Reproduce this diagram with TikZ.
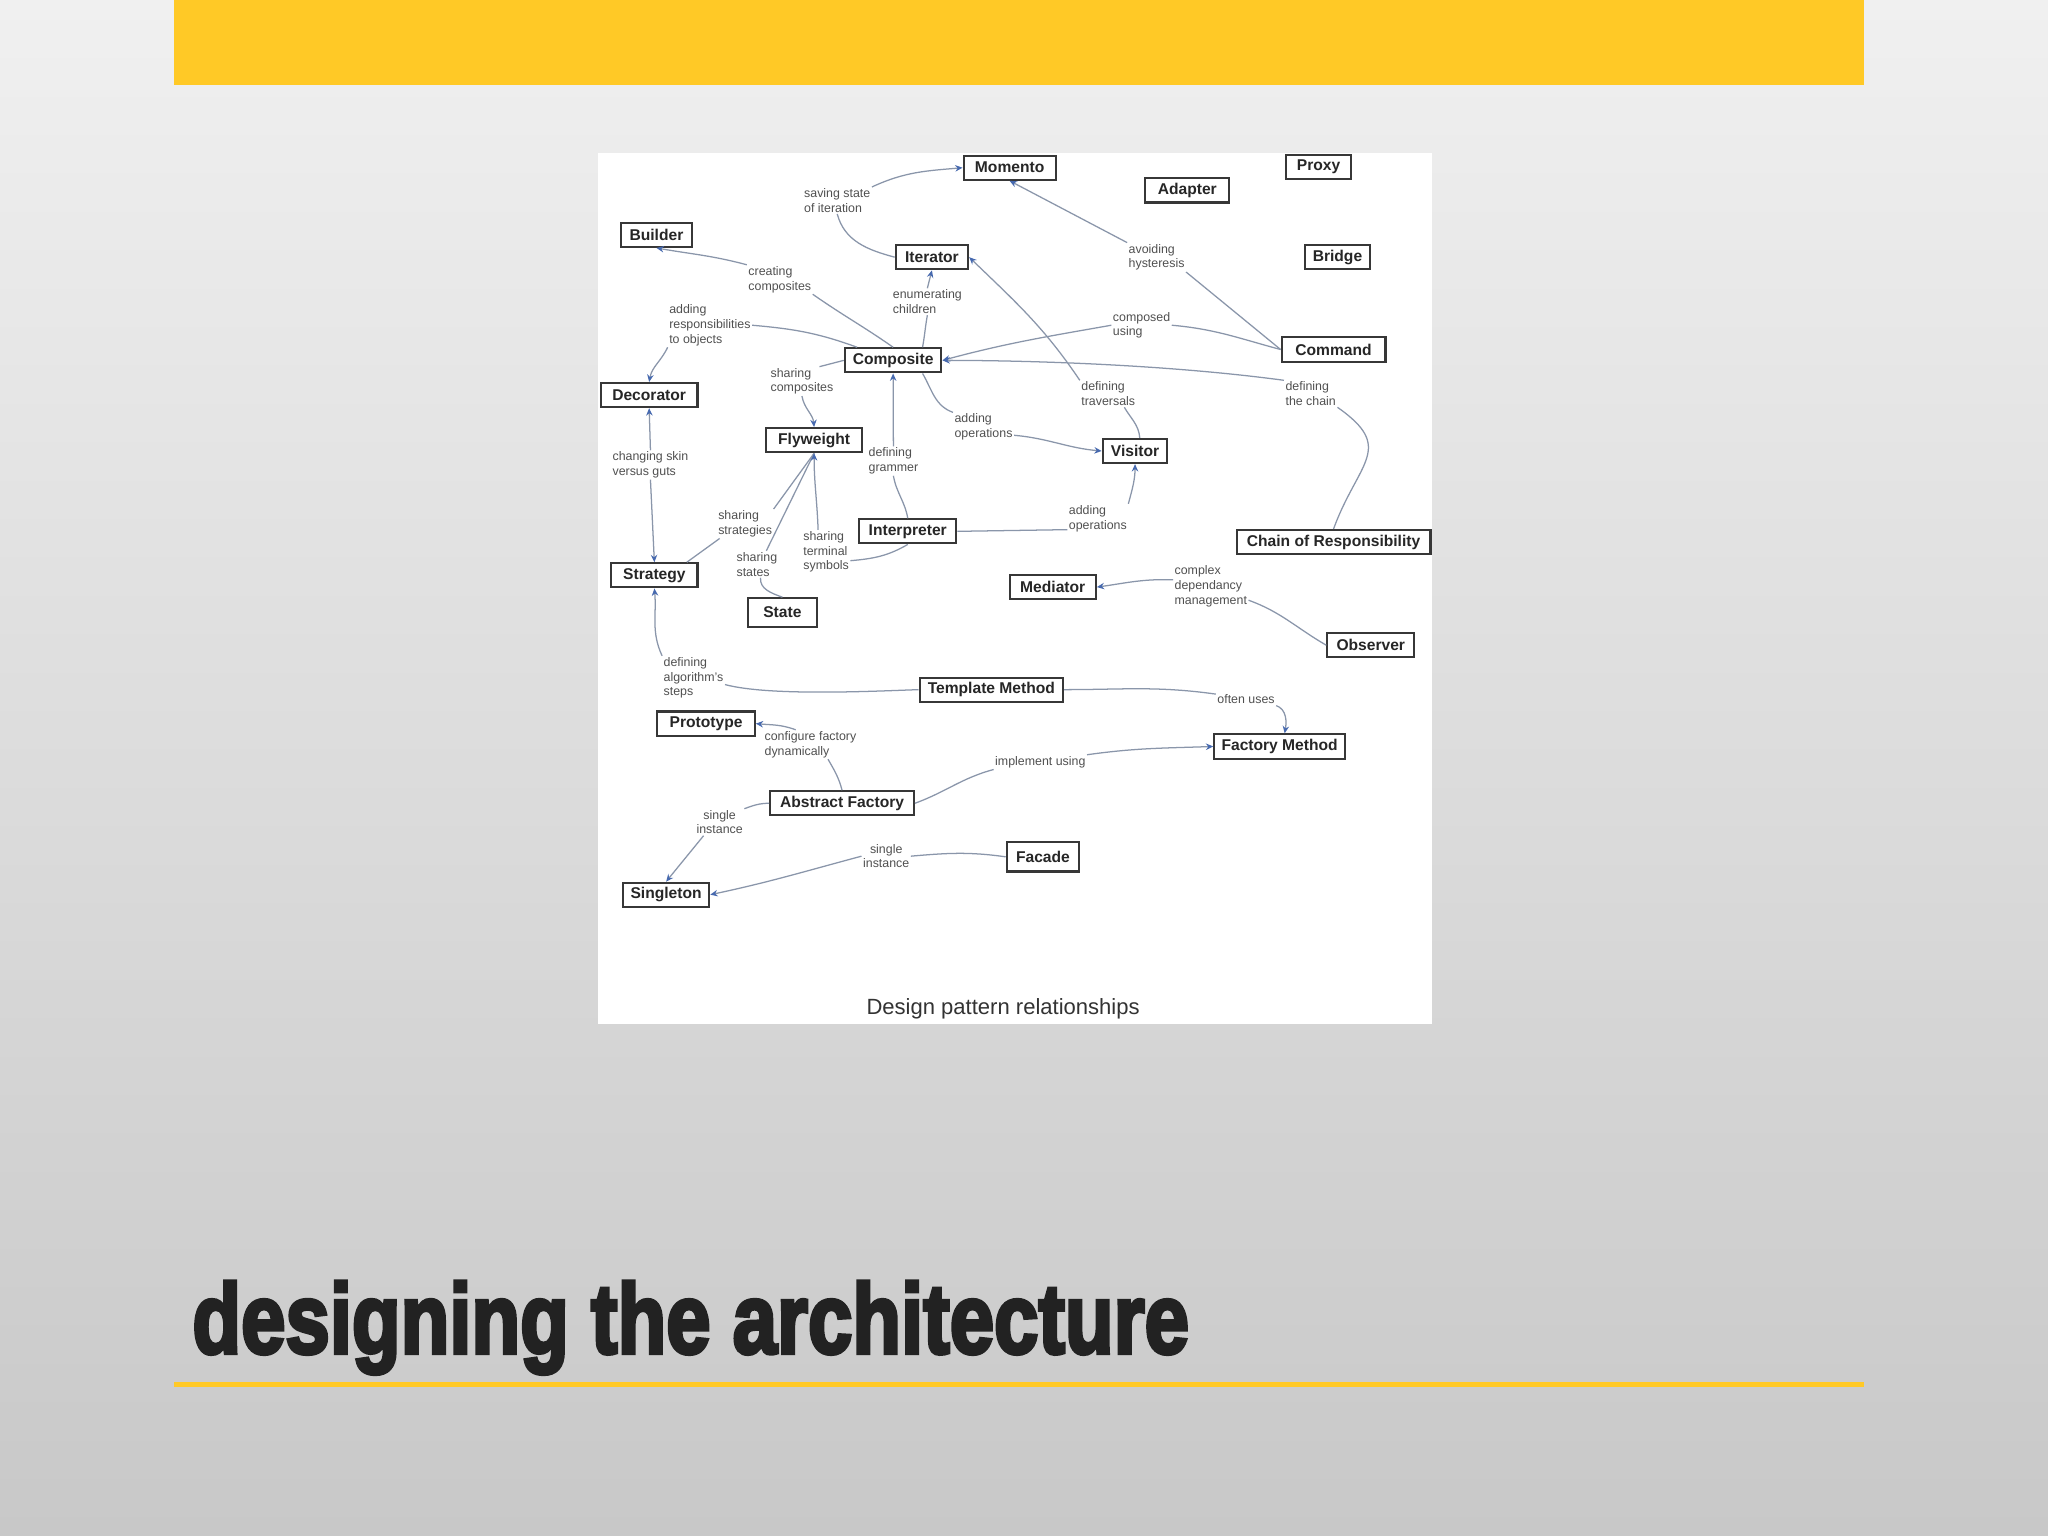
\documentclass[tikz,border=0pt]{standalone}
\usepackage{fontspec}
\usepackage{graphicx}
\setmainfont{Liberation Sans}
\newfontfamily\titlefont{Liberation Sans}[BoldFeatures={FakeBold=4}]
\usetikzlibrary{arrows.meta}
\definecolor{barc}{RGB}{255,201,38}
\definecolor{edgec}{RGB}{138,150,170}
\definecolor{arrowc}{RGB}{70,105,175}
\definecolor{boxc}{RGB}{55,55,55}
\definecolor{lblc}{RGB}{80,80,80}
\definecolor{titlec}{RGB}{34,34,34}
\definecolor{bgtop}{RGB}{240,240,240}
\definecolor{bgbot}{RGB}{200,200,200}
\tikzset{
 pat/.style={draw=boxc, line width=0.9pt, fill=white, inner xsep=2pt, inner ysep=0pt,
   minimum height=0.37cm, font=\fontsize{6.8}{8}\selectfont\bfseries, text=black!85},
 lbl/.style={inner sep=0.5pt, align=left, font=\fontsize{5.4}{6.4}\selectfont, text=lblc},
 conn/.style={draw=edgec, line width=0.55pt},
 conna/.style={conn, -{Stealth[length=3.2pt,width=2.8pt,color=arrowc]}},
}
\begin{document}
\begin{tikzpicture}[x=0.02cm,y=0.02cm]
\useasboundingbox (0,0) rectangle (1568,-1176);
\shade[top color=bgtop,bottom color=bgbot] (0,0) rectangle (1568,-1176);
\fill[barc] (133,0) rectangle (1427,-65);
\fill[white] (458,-117) rectangle (1096,-784);

% pattern boxes
\node[pat,minimum width=1.41cm] (Momento) at (773,-128.4) {Momento};
\node[pat,minimum width=1.29cm] (Adapter) at (909,-145.8) {Adapter};
\node[pat,minimum width=1.0cm] (Proxy) at (1009.5,-127.6) {Proxy};
\node[pat,minimum width=1.1cm] (Builder) at (502.6,-179.8) {Builder};
\node[pat,minimum width=1.11cm] (Iterator) at (713.5,-196.9) {Iterator};
\node[pat,minimum width=1.0cm] (Bridge) at (1024,-197) {Bridge};
\node[pat,minimum width=1.59cm] (Command) at (1021,-267.6) {Command};
\node[pat,minimum width=1.48cm] (Composite) at (683.8,-275.9) {Composite};
\node[pat,minimum width=1.48cm] (Decorator) at (497,-302.5) {Decorator};
\node[pat,minimum width=1.48cm] (Flyweight) at (623.3,-337) {Flyweight};
\node[pat,minimum width=0.99cm] (Visitor) at (869,-345.3) {Visitor};
\node[pat,minimum width=1.49cm] (Interpreter) at (695,-406.8) {Interpreter};
\node[pat,minimum width=2.97cm] (Chain) at (1021,-415) {Chain of Responsibility};
\node[pat,minimum width=1.32cm] (Strategy) at (501,-440.5) {Strategy};
\node[pat,minimum width=1.32cm] (Mediator) at (806,-449.5) {Mediator};
\node[pat,minimum width=1.06cm,minimum height=0.44cm] (State) at (599,-469) {State};
\node[pat,minimum width=1.33cm] (Observer) at (1049.5,-494) {Observer};
\node[pat,minimum width=2.2cm] (Template) at (759,-528) {Template Method};
\node[pat,minimum width=1.49cm] (Prototype) at (540.6,-554) {Prototype};
\node[pat,minimum width=2.0cm] (Factory) at (979.7,-571.5) {Factory Method};
\node[pat,minimum width=2.2cm] (Abstract) at (644.7,-615) {Abstract Factory};
\node[pat,minimum width=1.11cm,minimum height=0.45cm] (Facade) at (798.5,-656) {Facade};
\node[pat,minimum width=1.32cm] (Singleton) at (510,-685) {Singleton};

% labels
\node[lbl] (L1) at (641,-153.5) {saving state\\of iteration};
\node[lbl] (L2) at (885.5,-197) {avoiding\\hysteresis};
\node[lbl] (L3) at (597,-214) {creating\\composites};
\node[lbl] (L4) at (543.5,-249) {adding\\responsibilities\\to objects};
\node[lbl] (L5) at (710,-231) {enumerating\\children};
\node[lbl] (L6) at (874,-249) {composed\\using};
\node[lbl] (L7) at (614,-292) {sharing\\composites};
\node[lbl] (L8) at (848.5,-301.5) {defining\\traversals};
\node[lbl] (L9) at (1003.5,-301.5) {defining\\the chain};
\node[lbl] (L10) at (753,-327) {adding\\operations};
\node[lbl] (L11) at (498,-356) {changing skin\\versus guts};
\node[lbl] (L12) at (684,-353) {defining\\grammer};
\node[lbl] (L13) at (570.5,-401) {sharing\\strategies};
\node[lbl] (L14) at (840.5,-397) {adding\\operations};
\node[lbl] (L15) at (632.5,-422.5) {sharing\\terminal\\symbols};
\node[lbl] (L16) at (579.5,-432) {sharing\\states};
\node[lbl] (L17) at (927,-449) {complex\\dependancy\\management};
\node[lbl] (L18) at (531,-519) {defining\\algorithm's\\steps};
\node[lbl] (L19) at (954,-535.5) {often uses};
\node[lbl] (L20) at (620.5,-570) {configure factory\\dynamically};
\node[lbl] (L21) at (796.5,-583.5) {implement using};
\node[lbl,align=center] (L22) at (551,-629.5) {single\\instance};
\node[lbl,align=center] (L23) at (678.5,-655.5) {single\\instance};

% connectors
\draw[conn] (Iterator.west) to[out=165,in=-75] (L1.south);
\draw[conna] (L1.north east) to[out=25,in=185] (Momento.west);
\draw[conn] (L2.south east) -- (Command.west);
\draw[conna] (L2.north west) -- (Momento.south);
\draw[conn] (Composite.north) to[out=145,in=-35] (L3.south east);
\draw[conna] (L3.north west) to[out=165,in=-10] (Builder.south);
\draw[conn] (Composite.160) to[out=160,in=-5] (L4.east);
\draw[conna] (L4.south west) to[out=245,in=80] (Decorator.north);
\draw[conn] (Composite.24) to[out=80,in=-100] (L5.south);
\draw[conna] (L5.north) -- (Iterator.south);
\draw[conn] (Composite.west) -- (L7.40);
\draw[conna] (L7.south) to[out=-80,in=95] (Flyweight.north);
\draw[conn] (L12.south) to[out=-80,in=100] (Interpreter.north);
\draw[conna] (L12.north) -- (Composite.south);
\draw[conn] (Composite.-24) to[out=-60,in=160] (L10.north west);
\draw[conna] (L10.-15) to[out=-5,in=175] (Visitor.west);
\draw[conn] (Command.west) to[out=165,in=-5] (L6.east);
\draw[conna] (L6.west) to[out=190,in=15] (Composite.east);
\draw[conna] (L9.north west) .. controls (900,-280) and (800,-276) .. (Composite.east);
\draw[conn] (L9.south east) to[out=-35,in=70,looseness=1.5] (Chain.north);
\draw[conna] (L8.north west) to[out=124,in=-44] (Iterator.east);
\draw[conn] (L8.-40) to[out=-60,in=95] (Visitor.70);
\draw[conn] (Interpreter.east) -- (L14.200);
\draw[conna] (L14.north east) to[out=75,in=-90] (Visitor.south);
\draw[conna] (L11.north) -- (Decorator.south);
\draw[conna] (L11.south) -- (Strategy.north);
\draw[conn] (Flyweight.south) -- (L13.north east);
\draw[conn] (Flyweight.south) -- (L16.55);
\draw[conna] (L15.110) to[out=92,in=-90] (Flyweight.south);
\draw[conn] (L13.-150) -- (Strategy.22);
\draw[conn] (L16.-75) to[out=-95,in=160] (State.north);
\draw[conn] (L15.-20) to[out=5,in=-150] (Interpreter.south);
\draw[conn] (Template.west) to[out=182,in=-15,looseness=0.6] (L18.-12);
\draw[conna] (L18.north west) to[out=115,in=-85] (Strategy.south);
\draw[conn] (Template.east) to[out=0,in=172] (L19.170);
\draw[conna] (L19.south east) to[out=-20,in=80] (Factory.69);
\draw[conn] (Abstract.east) to[out=20,in=195] (L21.south west);
\draw[conna] (L21.north east) to[out=8,in=182] (Factory.west);
\draw[conn] (Abstract.north) to[out=105,in=-60] (L20.-40);
\draw[conna] (L20.135) to[out=160,in=-5] (Prototype.east);
\draw[conn] (Abstract.west) to[out=180,in=20] (L22.north east);
\draw[conna] (L22.-140) -- (Singleton.north);
\draw[conn] (Facade.west) to[out=172,in=5] (L23.east);
\draw[conna] (L23.west) to[out=195,in=12] (Singleton.east);
\draw[conn] (Observer.west) to[out=150,in=-20] (L17.-20);
\draw[conna] (L17.170) to[out=178,in=8] (Mediator.east);

\node[font=\fontsize{9.6}{11}\selectfont, text=black!80] (cap) at (768,-772) {Design pattern relationships};

% title
\node[anchor=base west, inner sep=0, text=titlec] (title) at (147,-1036)
  {\resizebox{15.26cm}{1.1cm}{\titlefont\bfseries designing the architecture}};
\fill[barc] (133,-1058) rectangle (1427,-1062);
\end{tikzpicture}
\end{document}
